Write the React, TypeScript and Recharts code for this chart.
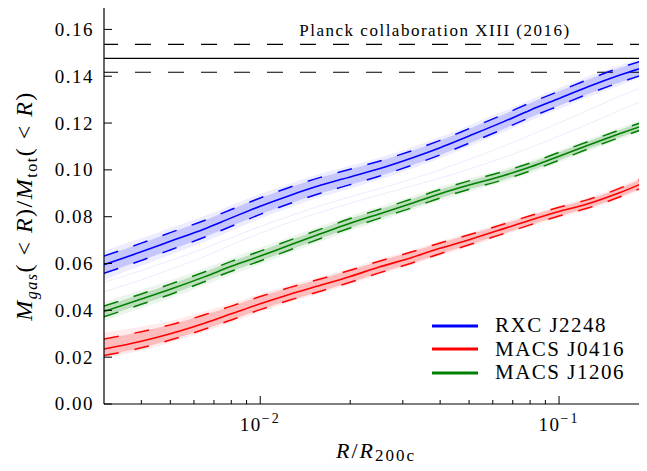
import { ComposedChart, Line, Area, XAxis, YAxis, ReferenceLine, Legend } from "recharts";

// R / R200c sample points
const radius = [0.003, 0.004, 0.005, 0.0065, 0.008, 0.01, 0.0125, 0.016, 0.02, 0.025, 0.032, 0.04, 0.05, 0.065, 0.08, 0.1, 0.125, 0.16, 0.2];

// RXC J2248
const blueMid = [0.0595, 0.065, 0.0695, 0.0748, 0.0795, 0.0845, 0.089, 0.0935, 0.097, 0.1005, 0.105, 0.1095, 0.1145, 0.1205, 0.1255, 0.1305, 0.1355, 0.1405, 0.1445];
const blueHi = [0.0632, 0.0687, 0.0732, 0.0784, 0.0831, 0.088, 0.0925, 0.0969, 0.1003, 0.1037, 0.1081, 0.1126, 0.1176, 0.1236, 0.1286, 0.1336, 0.1386, 0.1436, 0.1475];
const blueLo = [0.0558, 0.0613, 0.0658, 0.0712, 0.0759, 0.081, 0.0855, 0.0901, 0.0937, 0.0973, 0.1019, 0.1064, 0.1114, 0.1174, 0.1224, 0.1274, 0.1324, 0.1374, 0.1415];
const blueOutHi = [0.0655, 0.0708, 0.0752, 0.0803, 0.0849, 0.0897, 0.0941, 0.0985, 0.1018, 0.1052, 0.1096, 0.114, 0.119, 0.125, 0.13, 0.135, 0.14, 0.1447, 0.1485];
const blueOutLo = [0.053, 0.059, 0.0637, 0.0692, 0.074, 0.0792, 0.0838, 0.0885, 0.0921, 0.0958, 0.1004, 0.105, 0.11, 0.116, 0.121, 0.126, 0.131, 0.1362, 0.1405];
const blueStrayA = [0.048, 0.053, 0.0575, 0.063, 0.068, 0.073, 0.0775, 0.082, 0.0858, 0.0893, 0.093, 0.0965, 0.1003, 0.1052, 0.1095, 0.1145, 0.1195, 0.1255, 0.1305];
const blueStrayB = [0.052, 0.057, 0.0613, 0.0665, 0.071, 0.0758, 0.0802, 0.0848, 0.0885, 0.092, 0.096, 0.1, 0.1045, 0.11, 0.1148, 0.12, 0.1255, 0.1315, 0.1365];

// MACS J0416
const redMid = [0.0235, 0.0268, 0.03, 0.0345, 0.0385, 0.0428, 0.0468, 0.0508, 0.0545, 0.0585, 0.0625, 0.0665, 0.0702, 0.0748, 0.0785, 0.0822, 0.0855, 0.0903, 0.0955];
const redHi = [0.0278, 0.0309, 0.0338, 0.0381, 0.0418, 0.0459, 0.0497, 0.0535, 0.0571, 0.061, 0.0649, 0.0688, 0.0723, 0.0768, 0.0804, 0.084, 0.0873, 0.0922, 0.0975];
const redLo = [0.0207, 0.024, 0.0273, 0.0319, 0.0359, 0.0403, 0.0443, 0.0483, 0.052, 0.056, 0.0601, 0.0642, 0.068, 0.0727, 0.0765, 0.0803, 0.0837, 0.0885, 0.0937];
const redOutHi = [0.0305, 0.033, 0.0355, 0.0395, 0.043, 0.047, 0.0507, 0.0544, 0.058, 0.0618, 0.0656, 0.0695, 0.073, 0.0775, 0.081, 0.0847, 0.088, 0.093, 0.0985];
const redOutLo = [0.0195, 0.0228, 0.0262, 0.0308, 0.0349, 0.0393, 0.0434, 0.0474, 0.0511, 0.0552, 0.0593, 0.0634, 0.0672, 0.072, 0.0758, 0.0796, 0.083, 0.0878, 0.093];

// MACS J1206
const greenMid = [0.0395, 0.0448, 0.049, 0.0543, 0.0588, 0.0632, 0.0678, 0.0728, 0.0772, 0.0812, 0.0856, 0.0898, 0.0935, 0.0975, 0.1012, 0.1058, 0.1105, 0.1155, 0.1198];
const greenHi = [0.0418, 0.047, 0.0512, 0.0564, 0.0609, 0.0653, 0.0699, 0.0748, 0.0792, 0.0831, 0.0875, 0.0916, 0.0953, 0.0993, 0.1029, 0.1075, 0.1121, 0.1171, 0.1213];
const greenLo = [0.0372, 0.0426, 0.0468, 0.0522, 0.0567, 0.0611, 0.0657, 0.0708, 0.0752, 0.0793, 0.0837, 0.088, 0.0917, 0.0957, 0.0995, 0.1041, 0.1089, 0.1139, 0.1183];
const greenOutHi = [0.0435, 0.0487, 0.0528, 0.058, 0.0624, 0.0667, 0.0712, 0.0761, 0.0804, 0.0843, 0.0886, 0.0927, 0.0963, 0.1003, 0.1039, 0.1084, 0.113, 0.118, 0.1223];
const greenOutLo = [0.0355, 0.0409, 0.0452, 0.0506, 0.0552, 0.0597, 0.0644, 0.0695, 0.074, 0.0781, 0.0826, 0.0869, 0.0907, 0.0947, 0.0985, 0.1032, 0.108, 0.113, 0.1173];

const clusterNames = ["RXC J2248", "MACS J0416", "MACS J1206"];

// Planck baryon fraction
const planckMean = 0.1476;
const planckHi = 0.1536;
const planckLo = 0.1417;
const planckText = "Planck collaboration XIII (2016)";

const yTicks = [0, 0.02, 0.04, 0.06, 0.08, 0.1, 0.12, 0.14, 0.16];
const xTicks = [0.004, 0.005, 0.006, 0.007, 0.008, 0.009, 0.01, 0.02, 0.03, 0.04, 0.05, 0.06, 0.07, 0.08, 0.09, 0.1];
const xMajor = [0.01, 0.1];

const data = radius.map((r, i) => ({
  r,
  blue: blueMid[i],
  blueHi: blueHi[i],
  blueLo: blueLo[i],
  blueBand: [blueLo[i], blueHi[i]],
  blueSpread: [blueOutLo[i], blueOutHi[i]],
  blueA: blueStrayA[i],
  blueB: blueStrayB[i],
  red: redMid[i],
  redHi: redHi[i],
  redLo: redLo[i],
  redBand: [redLo[i], redHi[i]],
  redSpread: [redOutLo[i], redOutHi[i]],
  green: greenMid[i],
  greenHi: greenHi[i],
  greenLo: greenLo[i],
  greenBand: [greenLo[i], greenHi[i]],
  greenSpread: [greenOutLo[i], greenOutHi[i]],
}));

const serif = "Liberation Serif, Times New Roman, DejaVu Serif, Tinos, FreeSerif, Noto Serif, serif";
const BLUE = "#0000ff";
const RED = "#ff0000";
const GREEN = "#008000";
const DASH = "15 16";

function BottomTick({ x, y, payload }: any) {
  const major = xMajor.includes(payload.value);
  const exp = Math.round(Math.log10(payload.value));
  return (
    <g>
      <line x1={x} x2={x} y1={y} y2={y - (major ? 8 : 4)} stroke="#000" strokeWidth={1} />
      {major && (
        <text x={x} y={y + 27} textAnchor="middle" fontFamily={serif} fontSize={19} letterSpacing={1.5} fill="#000">
          10<tspan dy={-8} fontSize={14} letterSpacing={2}>{"\u2212" + Math.abs(exp)}</tspan>
        </text>
      )}
    </g>
  );
}

function TopTick({ x, y, payload }: any) {
  const major = xMajor.includes(payload.value);
  return <line x1={x} x2={x} y1={y} y2={y + (major ? 8 : 4)} stroke="#000" strokeWidth={1} />;
}

function LeftTick({ x, y, payload }: any) {
  return (
    <g>
      <line x1={x} x2={x + 8} y1={y} y2={y} stroke="#000" strokeWidth={1} />
      <text x={x - 10} y={y} dy="0.34em" textAnchor="end" fontFamily={serif} fontSize={19} letterSpacing={1.5} fill="#000">
        {payload.value.toFixed(2)}
      </text>
    </g>
  );
}

function RightTick({ x, y }: any) {
  return <line x1={x} x2={x - 8} y1={y} y2={y} stroke="#000" strokeWidth={1} />;
}

function LegendBox({ payload }: any) {
  const items = clusterNames
    .map((n) => (payload || []).find((p: any) => p.value === n))
    .filter(Boolean);
  return (
    <div>
      {items.map((p: any) => (
        <div key={p.value} style={{ display: "flex", alignItems: "center", height: 23.5 }}>
          <svg width={46} height={4} style={{ display: "block" }}>
            <line x1={0} x2={46} y1={2} y2={2} stroke={p.color} strokeWidth={3} />
          </svg>
          <span style={{ marginLeft: 17, fontFamily: serif, fontSize: 21, letterSpacing: 1.5, color: "#000", lineHeight: "23.5px" }}>{p.value}</span>
        </div>
      ))}
    </div>
  );
}

export default function App() {
  return (
    <div style={{ margin: -8, width: 647, height: 471, overflow: "hidden", background: "#fff" }}>
      <ComposedChart width={652} height={471} data={data} margin={{ top: 6, right: 3, bottom: 27, left: 44 }}>
        <XAxis
          dataKey="r"
          type="number"
          scale="log"
          domain={[0.003, 0.2]}
          allowDataOverflow
          ticks={xTicks}
          interval={0}
          height={40}
          tickSize={0}
          tickMargin={0}
          tickLine={false}
          tick={BottomTick}
          axisLine={{ stroke: "#000", strokeWidth: 1.2 }}
        />
        <XAxis
          xAxisId="top"
          orientation="top"
          dataKey="r"
          type="number"
          scale="log"
          domain={[0.003, 0.2]}
          allowDataOverflow
          ticks={xTicks}
          interval={0}
          height={0}
          tickSize={0}
          tickMargin={0}
          tickLine={false}
          tick={TopTick}
          axisLine={{ stroke: "#000", strokeWidth: 1.2 }}
        />
        <YAxis
          type="number"
          domain={[0, 0.17]}
          allowDataOverflow
          ticks={yTicks}
          interval={0}
          width={60}
          tickSize={0}
          tickMargin={0}
          tickLine={false}
          tick={LeftTick}
          axisLine={{ stroke: "#000", strokeWidth: 1.2 }}
        />
        <YAxis
          yAxisId="right"
          orientation="right"
          type="number"
          domain={[0, 0.17]}
          allowDataOverflow
          ticks={yTicks}
          interval={0}
          width={0}
          tickSize={0}
          tickMargin={0}
          tickLine={false}
          tick={RightTick}
          axisLine={{ stroke: "#000", strokeWidth: 1.2 }}
        />

        <ReferenceLine y={planckMean} stroke="#000" strokeWidth={1.2} />
        <ReferenceLine y={planckHi} stroke="#000" strokeWidth={1.2} strokeDasharray="16 17" strokeDashoffset={2} />
        <ReferenceLine y={planckLo} stroke="#000" strokeWidth={1.2} strokeDasharray="16 17" strokeDashoffset={2} />

        <Area type="monotone" dataKey="blueSpread" stroke="none" fill={BLUE} fillOpacity={0.07} legendType="none" isAnimationActive={false} />
        <Area type="monotone" dataKey="blueBand" stroke="none" fill={BLUE} fillOpacity={0.16} legendType="none" isAnimationActive={false} />
        <Area type="monotone" dataKey="redSpread" stroke="none" fill={RED} fillOpacity={0.08} legendType="none" isAnimationActive={false} />
        <Area type="monotone" dataKey="redBand" stroke="none" fill={RED} fillOpacity={0.2} legendType="none" isAnimationActive={false} />
        <Area type="monotone" dataKey="greenSpread" stroke="none" fill={GREEN} fillOpacity={0.08} legendType="none" isAnimationActive={false} />
        <Area type="monotone" dataKey="greenBand" stroke="none" fill={GREEN} fillOpacity={0.2} legendType="none" isAnimationActive={false} />

        <Line type="monotone" dataKey="blueA" stroke={BLUE} strokeOpacity={0.08} strokeWidth={1} dot={false} legendType="none" isAnimationActive={false} />
        <Line type="monotone" dataKey="blueB" stroke={BLUE} strokeOpacity={0.08} strokeWidth={1} dot={false} legendType="none" isAnimationActive={false} />

        <Line type="monotone" dataKey="blueHi" stroke={BLUE} strokeWidth={1.5} strokeDasharray={DASH} dot={false} legendType="none" isAnimationActive={false} />
        <Line type="monotone" dataKey="blueLo" stroke={BLUE} strokeWidth={1.5} strokeDasharray={DASH} dot={false} legendType="none" isAnimationActive={false} />
        <Line type="monotone" dataKey="redHi" stroke={RED} strokeWidth={1.5} strokeDasharray={DASH} dot={false} legendType="none" isAnimationActive={false} />
        <Line type="monotone" dataKey="redLo" stroke={RED} strokeWidth={1.5} strokeDasharray={DASH} dot={false} legendType="none" isAnimationActive={false} />
        <Line type="monotone" dataKey="greenHi" stroke={GREEN} strokeWidth={1.5} strokeDasharray={DASH} dot={false} legendType="none" isAnimationActive={false} />
        <Line type="monotone" dataKey="greenLo" stroke={GREEN} strokeWidth={1.5} strokeDasharray={DASH} dot={false} legendType="none" isAnimationActive={false} />

        <Line type="monotone" dataKey="blue" name={clusterNames[0]} stroke={BLUE} strokeWidth={1.6} dot={false} isAnimationActive={false} />
        <Line type="monotone" dataKey="red" name={clusterNames[1]} stroke={RED} strokeWidth={1.6} dot={false} isAnimationActive={false} />
        <Line type="monotone" dataKey="green" name={clusterNames[2]} stroke={GREEN} strokeWidth={1.6} dot={false} isAnimationActive={false} />

        <Legend
          layout="vertical"
          align="center"
          verticalAlign="middle"
          content={LegendBox}
          wrapperStyle={{ left: 432, top: 314, width: "auto" }}
        />

        <text x={435} y={36} textAnchor="middle" fontFamily={serif} fontSize={17} letterSpacing={1.5} fill="#000">
          {planckText}
        </text>
        <text x={376} y={458} textAnchor="middle" fontFamily={serif} fontSize={22} letterSpacing={2} fill="#000">
          <tspan fontStyle="italic">R</tspan>
          <tspan>/</tspan>
          <tspan fontStyle="italic">R</tspan>
          <tspan dy={3} fontSize={17}>200c</tspan>
        </text>
        <text transform="rotate(-90)" x={-206} y={32} textAnchor="middle" fontFamily={serif} fontSize={24} letterSpacing={1.5} fill="#000">
          <tspan fontStyle="italic">M</tspan>
          <tspan fontStyle="italic" fontSize={16} dy={5}>gas</tspan>
          <tspan dy={-5}>{"( < "}</tspan>
          <tspan fontStyle="italic">R</tspan>
          <tspan>{")/"}</tspan>
          <tspan fontStyle="italic">M</tspan>
          <tspan fontSize={16} dy={5}>tot</tspan>
          <tspan dy={-5}>{"( < "}</tspan>
          <tspan fontStyle="italic">R</tspan>
          <tspan>)</tspan>
        </text>
      </ComposedChart>
    </div>
  );
}
